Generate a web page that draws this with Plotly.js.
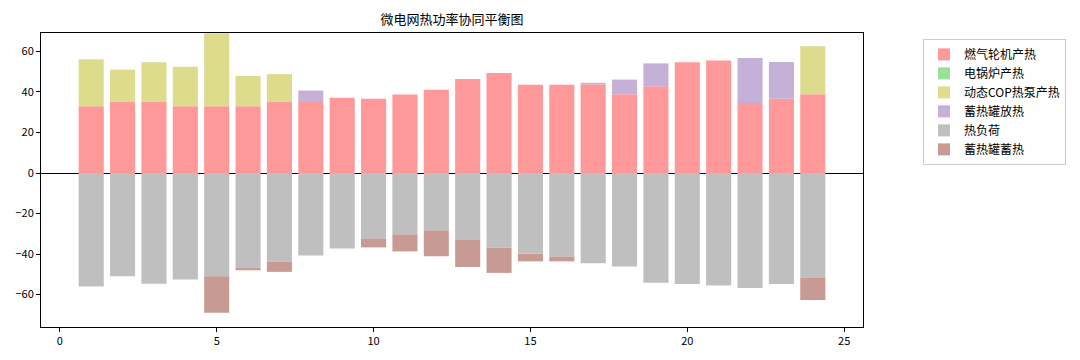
<!DOCTYPE html>
<html>
<head>
<meta charset="utf-8">
<script src="https://cdn.plot.ly/plotly-3.0.1.min.js"></script>
<style>html,body{margin:0;padding:0;background:#fff;}#chart{width:1080px;height:360px;}</style>
</head>
<body>
<div id="chart"></div>
<script>
const hours = [1,2,3,4,5,6,7,8,9,10,11,12,13,14,15,16,17,18,19,20,21,22,23,24];
const gasTurbine = [33,35,35,33,33,33,35,35,37.2,36.7,38.7,41.1,46.4,49.3,43.6,43.6,43.8,38.9,42.8,54.7,55.5,34.6,36.7,38.9];
const electricBoiler = [0,0,0,0,0,0,0,0,0,0,0,0,0,0,0,0,0,0,0,0,0,0,0,0];
const heatPump = [23.1,16,19.7,19.5,36,14.9,13.8,0,0,0,0,0,0,0,0,0,0,0,0,0,0,0,0,23.7];
const storageRelease = [0,0,0,0,0,0,0,5.7,0,0,0,0,0,0,0,0,0.7,7.2,11.3,0,0,22.1,18.1,0];
const heatLoad = [-56,-51,-54.7,-52.5,-50.9,-46.9,-43.8,-40.7,-37.2,-32.3,-30.3,-28.3,-32.9,-36.9,-39.9,-41.3,-44.5,-46.1,-54.1,-54.8,-55.5,-56.7,-54.8,-51.5];
const storageCharge = [0,0,0,0,-18.1,-1.1,-5.0,0,0,-4.4,-8.4,-12.8,-13.5,-12.4,-3.7,-2.3,0,0,0,0,0,0,0,-11.2];
const seriesNames = ['燃气轮机产热','电锅炉产热','动态COP热泵产热','蓄热罐放热','热负荷','蓄热罐蓄热'];
const seriesData = [gasTurbine, electricBoiler, heatPump, storageRelease, heatLoad, storageCharge];
const colors = ['#ff9999','#99e199','#dcdc8c','#c5b0d8','#bfbfbf','#c79b94'];

const traces = seriesData.map((d,i)=>({
  type:'bar', x: hours, y: d, name: seriesNames[i], width: 0.8,
  marker:{color: colors[i], line:{width:0}}
}));

const font = "'Noto Sans CJK SC', 'DejaVu Sans', sans-serif";
const layout = {
  width:1080, height:360,
  margin:{l:41, r:217, t:33, b:33},
  barmode:'relative',
  paper_bgcolor:'#fff', plot_bgcolor:'#fff',
  font:{family:font, size:11, color:'#000'},
  title:{text:'微电网热功率协同平衡图', font:{size:13, family:font, color:'#000'}, x:0.4185, xanchor:'center', y:0.945, yanchor:'middle'},
  xaxis:{range:[-0.6,25.6], tickvals:[0,5,10,15,20,25], ticks:'outside', ticklen:4, tickcolor:'#000',
    showgrid:false, zeroline:false, showline:true, linecolor:'#000', linewidth:1, mirror:true, tickfont:{size:11}},
  yaxis:{range:[-76,69.1], tickvals:[-60,-40,-20,0,20,40,60], ticktext:['−60','−40','−20','0','20','40','60'],
    ticks:'outside', ticklen:4, tickcolor:'#000',
    showgrid:false, zeroline:true, zerolinecolor:'#000', zerolinewidth:1,
    showline:true, linecolor:'#000', linewidth:1, mirror:true, tickfont:{size:11}},
  legend:{x:1.073, y:0.98, xanchor:'left', yanchor:'top', bordercolor:'#cccccc', borderwidth:1,
    bgcolor:'#fff', font:{size:12, family:font}, tracegroupgap:0, traceorder:'normal', itemwidth:30},
  showlegend:true
};
Plotly.newPlot('chart', traces, layout, {displayModeBar:false, staticPlot:true});
</script>
</body>
</html>
